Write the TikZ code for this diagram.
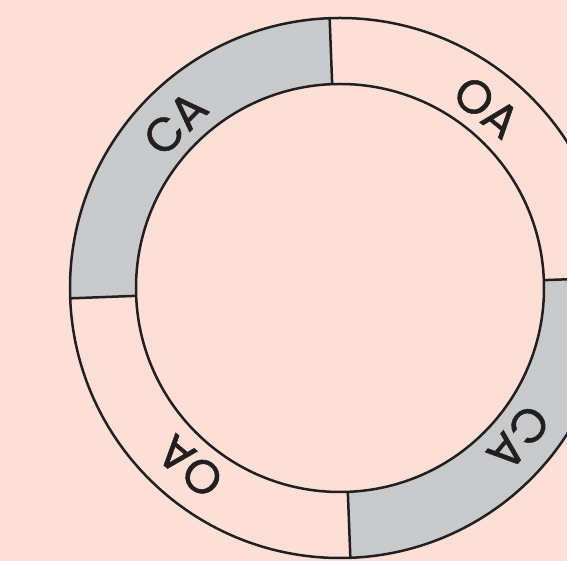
\documentclass[tikz,border=0pt]{standalone}
\usepackage{fontspec}
\setmainfont{Poppins}
\newfontfamily\labelfont[FakeBold=1.0]{Poppins}
\definecolor{bgpink}{HTML}{FCDFD6}
\definecolor{ringgray}{HTML}{C8C9CB}
\definecolor{ink}{HTML}{231F20}
\begin{document}
\begin{tikzpicture}[x=1pt,y=1pt,
  ringline/.style={draw=ink,line width=2.5pt},
  seglabel/.style={text=ink,font=\labelfont\fontsize{47}{50}\selectfont,inner sep=0pt,anchor=center}]
\def\Ro{270}\def\Ri{204}
% background
\fill[bgpink] (-340,-273) rectangle (227,288);
\useasboundingbox (-340,-273) rectangle (227,288);
\clip (-340,-273) rectangle (227,288);
% gray sectors
\fill[ringgray] (92.2:\Ro) arc[start angle=92.2,end angle=182.2,radius=\Ro]
  -- (182.2:\Ri) arc[start angle=182.2,end angle=92.2,radius=\Ri] -- cycle;
\fill[ringgray] (272.2:\Ro) arc[start angle=272.2,end angle=362.2,radius=\Ro]
  -- (362.2:\Ri) arc[start angle=362.2,end angle=272.2,radius=\Ri] -- cycle;
% circles
\draw[ringline] (0,0) circle[radius=\Ro];
\draw[ringline] (0,0) circle[radius=\Ri];
% dividers
\foreach \a in {2.2,92.2,182.2,272.2}
  \draw[ringline] (\a:\Ri) -- (\a:\Ro);
% labels
\node[seglabel,rotate=45] (ca1) at (135:233) {CA};
\node[seglabel,rotate=-39] (oa1) at (51:233) {OA};
\node[seglabel,rotate=-130] (ca2) at (-40:233) {CA};
\node[seglabel,rotate=140] (oa2) at (230:233) {OA};
\end{tikzpicture}
\end{document}
